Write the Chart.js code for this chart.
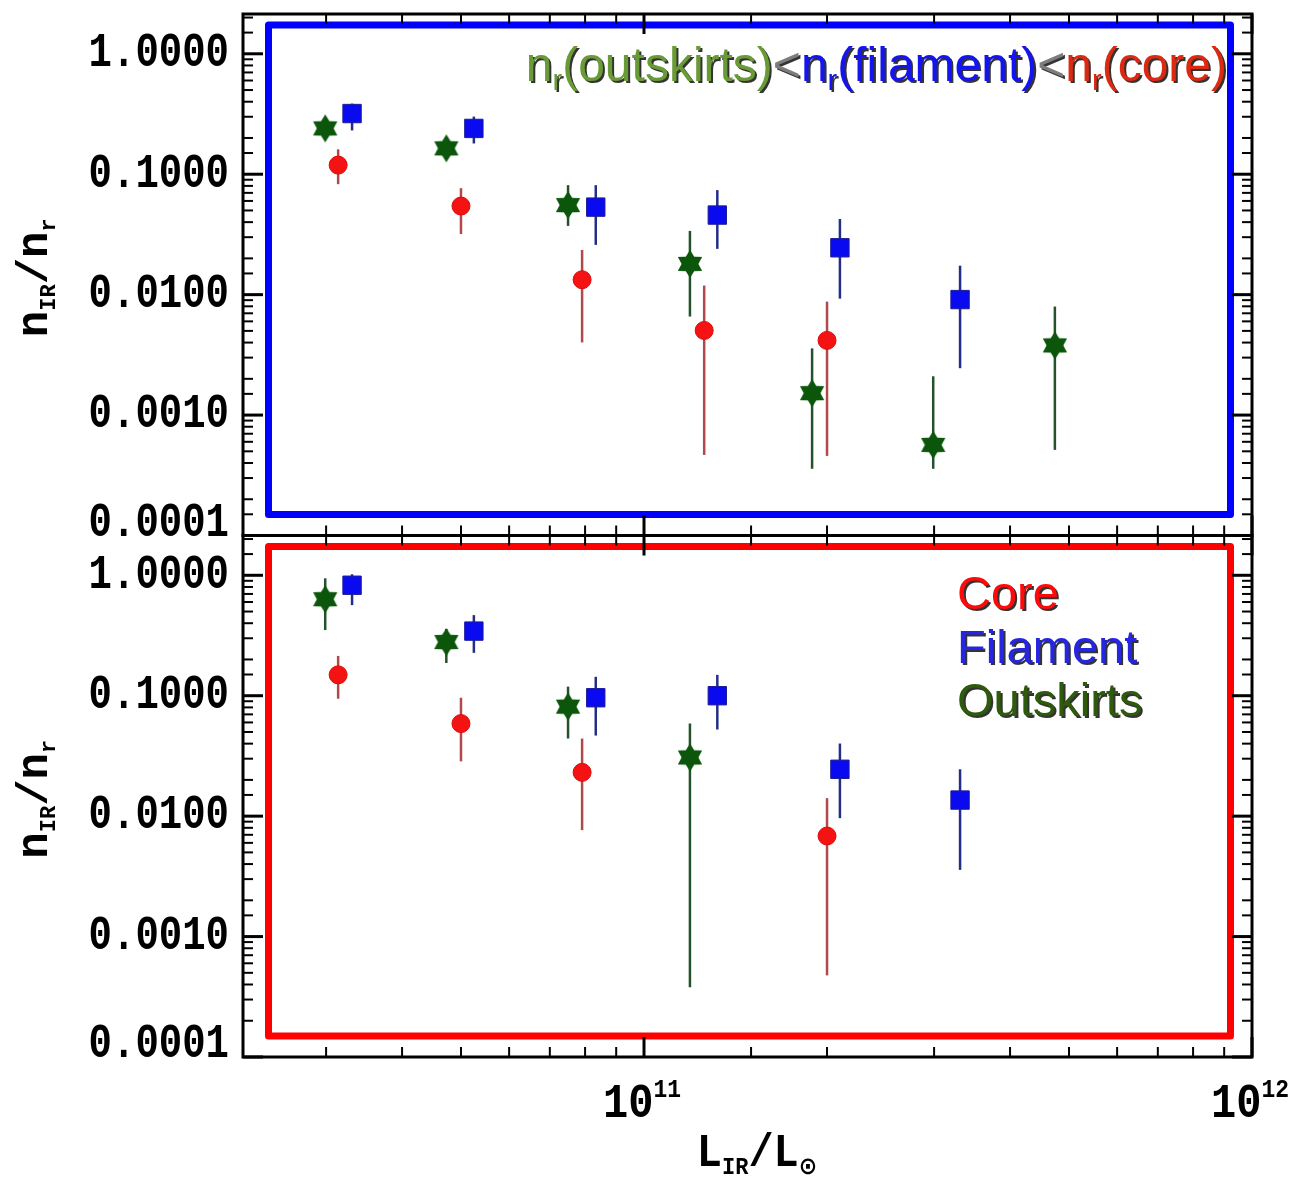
<!DOCTYPE html>
<html>
<head>
<meta charset="utf-8">
<title>n_IR / n_r vs L_IR</title>
<script src="https://cdn.jsdelivr.net/npm/chart.js@4.4.1/dist/chart.umd.min.js"></script>
<style>
  html, body { margin: 0; padding: 0; background: #fff; }
  #wrap { width: 1295px; height: 1177px; }
  canvas { display: block; }
</style>
</head>
<body>
<div id="wrap"><canvas id="chart" width="1295" height="1177"></canvas></div>
<script>
// Luminosity of each bin (L_IR / L_sun), per environment
const lumOutskirts = [2.99e10, 4.73e10, 7.50e10, 1.19e11, 1.89e11, 2.99e11, 4.74e11];
const lumFilament  = [3.31e10, 5.25e10, 8.33e10, 1.32e11, 2.10e11, 3.31e11];
const lumCore      = [3.14e10, 5.00e10, 7.91e10, 1.256e11, 2.00e11];

// Upper panel: n_IR / n_r with lower / upper error limits
const topOutskirts   = [0.240, 0.164, 0.0554, 0.0180, 0.00152, 0.000565, 0.00379];
const topOutskirtsLo = [0.214, 0.146, 0.0372, 0.00658, 0.000358, 0.000358, 0.000514];
const topOutskirtsHi = [0.269, 0.184, 0.0811, 0.0338, 0.00358, 0.0021, 0.00796];

const topFilament   = [0.319, 0.240, 0.0533, 0.0458, 0.0245, 0.0091];
const topFilamentLo = [0.231, 0.180, 0.0259, 0.0240, 0.00927, 0.00245];
const topFilamentHi = [0.386, 0.301, 0.0811, 0.0738, 0.0425, 0.0174];

const topCore   = [0.119, 0.0544, 0.0133, 0.00504, 0.00417];
const topCoreLo = [0.0827, 0.0319, 0.00401, 0.000467, 0.000458];
const topCoreHi = [0.161, 0.0766, 0.0235, 0.0119, 0.00875];

// Lower panel (null = no measurement in that bin)
const botOutskirts   = [0.633, 0.279, 0.0811, 0.0307, null, null, null];
const botOutskirtsLo = [0.351, 0.187, 0.0441, 0.000379, null, null, null];
const botOutskirtsHi = [0.944, 0.358, 0.119, 0.0587, null, null, null];

const botFilament   = [0.827, 0.344, 0.0962, 0.100, 0.0245, 0.0136];
const botFilamentLo = [0.565, 0.227, 0.0467, 0.0524, 0.00962, 0.00358];
const botFilamentHi = [1.02, 0.467, 0.1436, 0.149, 0.0401, 0.0245];

const botCore   = [0.149, 0.0587, 0.0231, null, 0.00684];
const botCoreLo = [0.0944, 0.0285, 0.00766, null, 0.000476];
const botCoreHi = [0.214, 0.0962, 0.0441, null, 0.0141];

// Axis limits and labelled ticks
const xMin = 2.19e10, xMax = 1e12;
const yMin = 1e-4, yMax = 2.14;
const xTickLabels = [[1e11, '10', '11'], [1e12, '10', '12']];

// Both y scales span the full plot height; each one's own panel is half of it.
// The upper scale extends one panel-height below, the lower one above.
const span = yMax / yMin;
const yTopRange = [yMin / span, yMax];
const yBotRange = [yMin, yMax * span];

const GREEN = '#0b560b', BLUE = '#0a0af0', RED = '#f51212';
const MONO = '"Liberation Mono"';

function points(xs, ys, lo, hi) {
    return xs.map((x, i) => ys[i] == null ? null : { x: x, y: ys[i], lo: lo[i], hi: hi[i] })
        .filter(Boolean);
}

// Filled six-pointed star (point up) used as marker for the outskirts
function makeStar(fill) {
    const c = document.createElement('canvas');
    c.width = 28; c.height = 30;
    const g = c.getContext('2d');
    g.translate(14, 15);
    g.beginPath();
    for (let i = 0; i < 12; i++) {
        const a = -Math.PI / 2 + i * Math.PI / 6;
        const r = i % 2 === 0 ? 14 : 8.4;
        const px = r * Math.cos(a), py = r * Math.sin(a);
        if (i) g.lineTo(px, py); else g.moveTo(px, py);
    }
    g.closePath();
    g.fillStyle = fill;
    g.fill();
    return c;
}
const starImg = makeStar(GREEN);

function isDecade(v) {
    const l = Math.log10(v);
    return Math.abs(l - Math.round(l)) < 1e-6;
}

// Pixel extent of one panel on its y scale
function panel(s) {
    return { top: s.getPixelForValue(yMax), bottom: s.getPixelForValue(yMin) };
}

// Draws a run of text pieces (with sub/superscripts) starting from x
function richText(ctx, parts, x, y, align) {
    let w = 0;
    parts.forEach(p => { ctx.font = p.font; p.w = ctx.measureText(p.t).width; w += p.w; });
    let cx = align === 'center' ? x - w / 2 : (align === 'right' ? x - w : x);
    parts.forEach(p => {
        ctx.font = p.font;
        ctx.fillStyle = p.color || '#000';
        ctx.fillText(p.t, cx, y + (p.dy || 0));
        cx += p.w;
    });
}

// Same, stretched vertically (the axis lettering is tall and narrow)
function tallText(ctx, parts, x, y, align, sy) {
    ctx.save();
    ctx.translate(x, y);
    ctx.scale(1, sy);
    richText(ctx, parts, 0, 0, align);
    ctx.restore();
}

// Vertical error bars, drawn under the markers
const errorBars = {
    id: 'errorBars',
    beforeDatasetsDraw(chart) {
        const ctx = chart.ctx;
        chart.data.datasets.forEach((ds, i) => {
            const meta = chart.getDatasetMeta(i);
            const ys = chart.scales[ds.yAxisID];
            ctx.save();
            ctx.strokeStyle = ds.barColor;
            ctx.lineWidth = 2.5;
            ds.data.forEach((p, j) => {
                const x = meta.data[j].x;
                ctx.beginPath();
                ctx.moveTo(x, ys.getPixelForValue(p.lo));
                ctx.lineTo(x, ys.getPixelForValue(p.hi));
                ctx.stroke();
            });
            ctx.restore();
        });
    }
};

// Coloured boxes inside each panel
const panelBoxes = {
    id: 'panelBoxes',
    beforeDatasetsDraw(chart) {
        const ctx = chart.ctx, ca = chart.chartArea;
        [['yTop', '#0000ff'], ['yBot', '#ff0000']].forEach(([id, col]) => {
            const p = panel(chart.scales[id]);
            ctx.save();
            ctx.strokeStyle = col;
            ctx.lineWidth = 7;
            ctx.lineJoin = 'round';
            ctx.strokeRect(ca.left + 25.5, p.top + 11, ca.right - ca.left - 47, p.bottom - p.top - 32);
            ctx.restore();
        });
    }
};

// Frames with inward ticks on all four sides, tick labels, titles and annotations
const frames = {
    id: 'frames',
    afterDraw(chart) {
        const ctx = chart.ctx, ca = chart.chartArea, xs = chart.scales.x;
        ctx.save();
        ctx.strokeStyle = '#000';
        ctx.fillStyle = '#000';
        ctx.lineCap = 'butt';

        function tick(x1, y1, x2, y2, w) {
            ctx.lineWidth = w;
            ctx.beginPath(); ctx.moveTo(x1, y1); ctx.lineTo(x2, y2); ctx.stroke();
        }

        ['yTop', 'yBot'].forEach(id => {
            const s = chart.scales[id];
            const p = panel(s);
            s.ticks.forEach(t => {
                const major = isDecade(t.value);
                if (t.value < yMin * 0.9999 || t.value > yMax) return;
                if (!major && (t.value <= yMin || t.value >= yMax)) return;
                const y = s.getPixelForValue(t.value);
                const len = major ? 20 : 10;
                tick(ca.left, y, ca.left + len, y, major ? 3 : 2);
                tick(ca.right, y, ca.right - len, y, major ? 3 : 2);
                if (major) {
                    // lowest label is lifted so it stays inside the panel
                    const ly = t.value <= yMin * 1.0001 ? y - 12 : y;
                    ctx.textBaseline = 'middle';
                    tallText(ctx, [{ t: t.value.toFixed(4), font: 'bold 39px ' + MONO }], 229, ly, 'right', 1.25);
                }
            });
            xs.ticks.forEach(t => {
                const major = isDecade(t.value);
                if (!major && (t.value <= xMin || t.value >= xMax)) return;
                const x = xs.getPixelForValue(t.value);
                const len = major ? 20 : 10;
                tick(x, p.top, x, p.top + len, major ? 3 : 2);
                tick(x, p.bottom, x, p.bottom - len, major ? 3 : 2);
            });
            ctx.lineWidth = 3;
            ctx.strokeRect(ca.left, p.top, ca.right - ca.left, p.bottom - p.top);
        });

        // x tick labels 10^11, 10^12
        ctx.textBaseline = 'alphabetic';
        xTickLabels.forEach(([v, base, exp]) => {
            tallText(ctx, [
                { t: base, font: 'bold 42px ' + MONO },
                { t: exp, font: 'bold 23px ' + MONO, dy: -17 }
            ], xs.getPixelForValue(v) - 2, 1117, 'center', 1.15);
        });

        // x title
        tallText(ctx, [
            { t: 'L', font: 'bold 42px ' + MONO },
            { t: 'IR', font: 'bold 22px ' + MONO, dy: 7 },
            { t: '/', font: 'bold 42px ' + MONO },
            { t: 'L', font: 'bold 42px ' + MONO },
            { t: '\u2299', font: 'bold 22px "DejaVu Sans"', dy: 7 }
        ], 757, 1166, 'center', 1.1);

        // y titles, one per panel
        ['yTop', 'yBot'].forEach(id => {
            const p = panel(chart.scales[id]);
            ctx.save();
            ctx.translate(47, (p.top + p.bottom) / 2 + 3);
            ctx.rotate(-Math.PI / 2);
            richText(ctx, [
                { t: 'n', font: 'bold 44px ' + MONO },
                { t: 'IR', font: 'bold 22px ' + MONO, dy: 8 },
                { t: '/', font: 'bold 44px ' + MONO },
                { t: 'n', font: 'bold 44px ' + MONO },
                { t: 'r', font: 'bold 22px ' + MONO, dy: 8 }
            ], 0, 0, 'center');
            ctx.restore();
        });

        // density ordering statement in the upper panel
        ctx.shadowColor = 'rgba(15,15,15,0.85)';
        ctx.shadowOffsetX = 2;
        ctx.shadowOffsetY = 2;
        const big = '48px "Liberation Sans"', sub = '29px "Liberation Sans"';
        const og = '#689a35', gr = '#7d7d7d', bl = '#1414f0', rd = '#dc2a12';
        const ty = panel(chart.scales.yTop).top;
        richText(ctx, [
            { t: 'n', font: big, color: og }, { t: 'r', font: sub, color: og, dy: 9 },
            { t: '(outskirts)', font: big, color: og },
            { t: '<', font: big, color: gr },
            { t: 'n', font: big, color: bl }, { t: 'r', font: sub, color: bl, dy: 9 },
            { t: '(filament)', font: big, color: bl },
            { t: '<', font: big, color: gr },
            { t: 'n', font: big, color: rd }, { t: 'r', font: sub, color: rd, dy: 9 },
            { t: '(core)', font: big, color: rd }
        ], 1227, ty + 67, 'right');

        // environment key in the lower panel
        const key = '47px "Liberation Sans"';
        const kx = 957, ky = panel(chart.scales.yBot).top;
        richText(ctx, [{ t: 'Core', font: key, color: '#ff0a0a' }], kx, ky + 73, 'left');
        richText(ctx, [{ t: 'Filament', font: key, color: '#2626e0' }], kx, ky + 127, 'left');
        richText(ctx, [{ t: 'Outskirts', font: key, color: '#2e5a0b' }], kx, ky + 180, 'left');
        ctx.restore();
    }
};

function logAxisY(range) {
    return {
        type: 'logarithmic',
        display: false,
        min: range[0],
        max: range[1],
        ticks: { autoSkip: false }
    };
}

new Chart(document.getElementById('chart'), {
    type: 'scatter',
    data: {
        datasets: [
            { label: 'Outskirts', yAxisID: 'yTop', data: points(lumOutskirts, topOutskirts, topOutskirtsLo, topOutskirtsHi),
              pointStyle: starImg, pointRadius: 10, barColor: '#24522a', order: 3 },
            { label: 'Filament', yAxisID: 'yTop', data: points(lumFilament, topFilament, topFilamentLo, topFilamentHi),
              pointStyle: 'rect', pointRadius: 13, backgroundColor: BLUE, borderColor: '#1c1c9a', borderWidth: 1, barColor: '#232f86', order: 2 },
            { label: 'Core', yAxisID: 'yTop', data: points(lumCore, topCore, topCoreLo, topCoreHi),
              pointStyle: 'circle', pointRadius: 9, backgroundColor: RED, borderColor: '#d80c0c', borderWidth: 1, barColor: '#b04a4a', order: 1 },
            { label: 'Outskirts', yAxisID: 'yBot', data: points(lumOutskirts, botOutskirts, botOutskirtsLo, botOutskirtsHi),
              pointStyle: starImg, pointRadius: 10, barColor: '#24522a', order: 3 },
            { label: 'Filament', yAxisID: 'yBot', data: points(lumFilament, botFilament, botFilamentLo, botFilamentHi),
              pointStyle: 'rect', pointRadius: 13, backgroundColor: BLUE, borderColor: '#1c1c9a', borderWidth: 1, barColor: '#232f86', order: 2 },
            { label: 'Core', yAxisID: 'yBot', data: points(lumCore, botCore, botCoreLo, botCoreHi),
              pointStyle: 'circle', pointRadius: 9, backgroundColor: RED, borderColor: '#d80c0c', borderWidth: 1, barColor: '#b04a4a', order: 1 }
        ]
    },
    options: {
        responsive: false,
        animation: false,
        devicePixelRatio: 1,
        // plot box: x 243..1252, y 10..1057; axes are drawn by the frames plugin
        layout: { padding: { top: 10, right: 43, left: 243, bottom: 120 } },
        plugins: { legend: { display: false }, tooltip: { enabled: false } },
        scales: {
            x: {
                type: 'logarithmic',
                display: false,
                min: xMin,
                max: xMax,
                ticks: { autoSkip: false }
            },
            yTop: logAxisY(yTopRange),
            yBot: logAxisY(yBotRange)
        }
    },
    plugins: [panelBoxes, errorBars, frames]
});
</script>
</body>
</html>
